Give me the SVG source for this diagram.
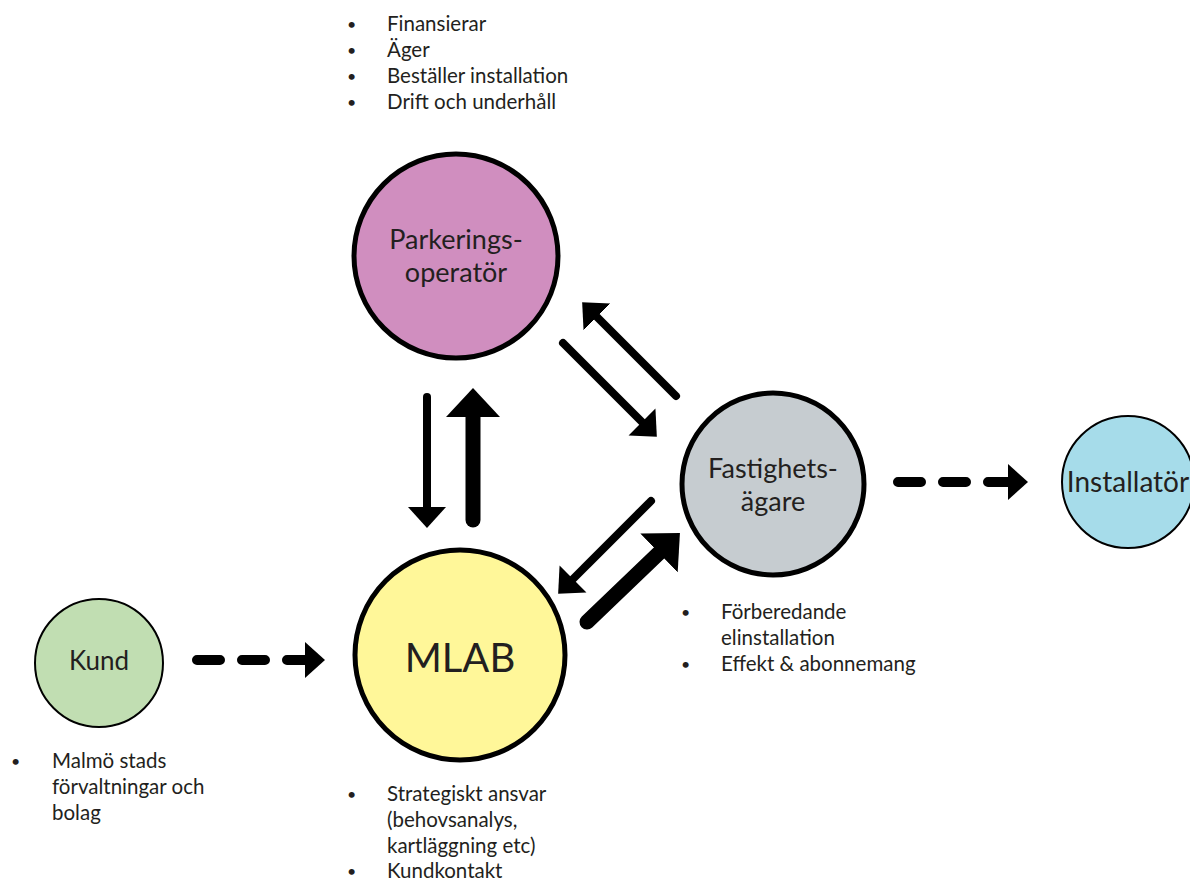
<svg xmlns="http://www.w3.org/2000/svg" width="1190" height="881" viewBox="0 0 1190 881">
<style>
text{font-family:Lato,"Open Sans","Liberation Sans",sans-serif;fill:#231f20}
.lbl{text-anchor:middle;font-size:27px}
.bt{font-size:20.5px}
.bul{font-size:16px}
.big{stroke:#000;stroke-width:5}
.small{stroke:#000;stroke-width:2}
.thin{stroke:#000;stroke-width:8;stroke-linecap:round;fill:none}
.thick{stroke:#000;stroke-width:15;stroke-linecap:round;fill:none}
.dash{stroke:#000;stroke-width:10;stroke-linecap:round;stroke-dasharray:23 22;fill:none}
</style>
<defs>
<marker id="hThin" markerUnits="userSpaceOnUse" markerWidth="24" markerHeight="40" viewBox="0 -20 24 40" refX="0" refY="0" orient="auto"><path d="M0,-19 L21,0 L0,19 Z" fill="#000"/></marker>
<marker id="hThick" markerUnits="userSpaceOnUse" markerWidth="32" markerHeight="56" viewBox="0 -28 32 56" refX="0" refY="0" orient="auto"><path d="M0,-27 L29,0 L0,27 Z" fill="#000"/></marker>
<marker id="hDash" markerUnits="userSpaceOnUse" markerWidth="24" markerHeight="40" viewBox="0 -20 24 40" refX="0" refY="0" orient="auto"><path d="M0,-18 L20,0 L0,18 Z" fill="#000"/></marker>
</defs>
<rect width="1190" height="881" fill="#fff"/>

<g id="connectors">
<line class="thin" x1="427" y1="397" x2="427" y2="507" marker-end="url(#hThin)"/>
<line class="thick" x1="473" y1="520" x2="473" y2="417" marker-end="url(#hThick)"/>
<line class="thin" x1="563" y1="343" x2="642" y2="422" marker-end="url(#hThin)"/>
<line class="thin" x1="676" y1="396" x2="597" y2="317" marker-end="url(#hThin)"/>
<line class="thin" x1="651" y1="501" x2="573" y2="579" marker-end="url(#hThin)"/>
<line class="thick" x1="587" y1="622" x2="659" y2="553" marker-end="url(#hThick)"/>
<line class="dash" x1="898" y1="482" x2="1008" y2="482" marker-end="url(#hDash)"/>
<line class="dash" x1="197" y1="660" x2="305" y2="660" marker-end="url(#hDash)"/>
</g>

<g id="parkeringsoperator">
<circle class="big" cx="456" cy="256" r="102" fill="#d08ebf"/>
<text class="lbl" x="456" y="249">Parkerings-</text>
<text class="lbl" x="456" y="282">operatör</text>
</g>

<g id="fastighetsagare">
<circle class="big" cx="773" cy="484" r="91" fill="#c6ccd0"/>
<text class="lbl" x="773" y="478">Fastighets-</text>
<text class="lbl" x="773" y="511">ägare</text>
</g>

<g id="mlab">
<circle class="big" cx="460" cy="655" r="105" fill="#fff799"/>
<text class="lbl" x="460" y="672" style="font-size:40px">MLAB</text>
</g>

<g id="kund">
<circle class="small" cx="99" cy="663" r="64" fill="#c1deb2"/>
<text class="lbl" x="99" y="670" style="font-size:26px">Kund</text>
</g>

<g id="installator">
<circle class="small" cx="1128" cy="482" r="66" fill="#a6dcea"/>
<text class="lbl" x="1128" y="492" style="font-size:28px">Installatör</text>
</g>

<g id="notes-parkering">
<text class="bul" x="347" y="30">•</text><text class="bt" x="387" y="31">Finansierar</text>
<text class="bul" x="347" y="56">•</text><text class="bt" x="387" y="57">Äger</text>
<text class="bul" x="347" y="82">•</text><text class="bt" x="387" y="83">Beställer installation</text>
<text class="bul" x="347" y="108">•</text><text class="bt" x="387" y="109">Drift och underhåll</text>
</g>

<g id="notes-kund">
<text class="bul" x="11" y="767">•</text><text class="bt" x="52" y="768">Malmö stads</text>
<text class="bt" x="52" y="794">förvaltningar och</text>
<text class="bt" x="52" y="820">bolag</text>
</g>

<g id="notes-mlab">
<text class="bul" x="347" y="800">•</text><text class="bt" x="387" y="801">Strategiskt ansvar</text>
<text class="bt" x="387" y="827">(behovsanalys,</text>
<text class="bt" x="387" y="853">kartläggning etc)</text>
<text class="bul" x="347" y="877">•</text><text class="bt" x="387" y="878">Kundkontakt</text>
</g>

<g id="notes-fastighet">
<text class="bul" x="681" y="618">•</text><text class="bt" x="721" y="619">Förberedande</text>
<text class="bt" x="721" y="645">elinstallation</text>
<text class="bul" x="681" y="670">•</text><text class="bt" x="721" y="671">Effekt &amp; abonnemang</text>
</g>
</svg>
